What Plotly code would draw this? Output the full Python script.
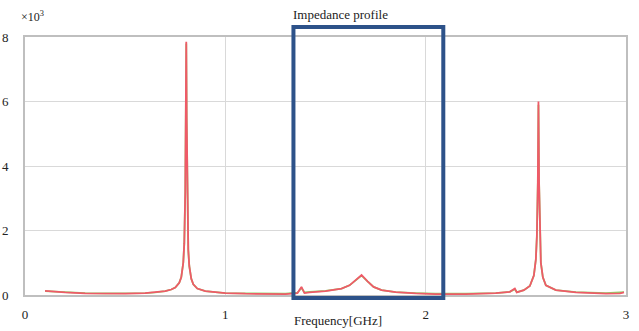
import plotly.graph_objects as go

# Frequency in GHz, impedance in x10^3
freq = [0.10, 0.15, 0.20, 0.30, 0.40, 0.50, 0.60, 0.65, 0.70, 0.73, 0.75, 0.77, 0.78, 0.79,
        0.795, 0.80, 0.803, 0.805, 0.807, 0.81, 0.815, 0.82, 0.83, 0.84, 0.86, 0.90, 0.95,
        1.00, 1.10, 1.20, 1.30, 1.36, 1.38, 1.395, 1.42, 1.50, 1.58, 1.62, 1.65, 1.68, 1.71,
        1.74, 1.78, 1.85, 1.95, 2.05, 2.20, 2.35, 2.42, 2.445, 2.455, 2.49, 2.52, 2.54, 2.55,
        2.555, 2.56, 2.563, 2.566, 2.57, 2.575, 2.585, 2.60, 2.65, 2.75, 2.90, 2.97, 2.99]

red_vals = [0.13, 0.10, 0.08, 0.05, 0.04, 0.04, 0.06, 0.08, 0.12, 0.17, 0.23, 0.38, 0.55, 1.0,
            1.6, 3.2, 5.5, 7.85, 5.5, 2.8, 1.4, 0.9, 0.5, 0.33, 0.2, 0.12, 0.08,
            0.06, 0.04, 0.03, 0.03, 0.06, 0.25, 0.06, 0.08, 0.12, 0.20, 0.30, 0.45, 0.62, 0.42,
            0.25, 0.15, 0.09, 0.05, 0.03, 0.03, 0.06, 0.10, 0.20, 0.08, 0.15, 0.28, 0.6, 1.1,
            1.8, 3.5, 6.0, 3.5, 1.8, 1.0, 0.55, 0.30, 0.15, 0.08, 0.04, 0.05, 0.08]

green_vals = [0.12, 0.10, 0.08, 0.06, 0.05, 0.05, 0.06, 0.08, 0.12, 0.17, 0.23, 0.38, 0.55, 1.0,
              1.6, 3.2, 5.5, 7.8, 5.5, 2.8, 1.4, 0.9, 0.5, 0.33, 0.2, 0.12, 0.08,
              0.06, 0.05, 0.04, 0.04, 0.07, 0.22, 0.08, 0.10, 0.13, 0.20, 0.30, 0.45, 0.60, 0.42,
              0.25, 0.15, 0.09, 0.06, 0.04, 0.04, 0.06, 0.10, 0.18, 0.09, 0.15, 0.28, 0.6, 1.1,
              1.8, 3.5, 5.9, 3.5, 1.8, 1.0, 0.55, 0.30, 0.15, 0.09, 0.06, 0.07, 0.09]

x_ticks = [0, 1, 2, 3]
y_ticks = [0, 2, 4, 6, 8]

# highlighted window (GHz)
box_x = [1.34, 2.088]

font_family = "Liberation Serif"

fig = go.Figure()
fig.add_trace(go.Scatter(x=freq, y=green_vals, mode="lines",
                         line=dict(color="#8fd46a", width=1.8), showlegend=False))
fig.add_trace(go.Scatter(x=freq, y=red_vals, mode="lines",
                         line=dict(color="#ef5a68", width=1.8), showlegend=False))

fig.add_shape(type="rect", xref="x", yref="paper",
              x0=box_x[0], x1=box_x[1], y0=-0.012, y1=1.039,
              line=dict(color="#2d5289", width=4), fillcolor="rgba(0,0,0,0)", layer="above")

fig.update_layout(
    width=639, height=331,
    margin=dict(l=25, r=13, t=37, b=36, autoexpand=False),
    paper_bgcolor="white", plot_bgcolor="white",
    font=dict(family=font_family, size=13, color="#222222"),
    xaxis=dict(range=[0, 3], tickvals=x_ticks, ticktext=[str(v) for v in x_ticks],
               showgrid=True, gridcolor="#d9d9d9", gridwidth=1,
               showline=True, linecolor="#bfbfbf", linewidth=2, mirror=True,
               zeroline=False, ticks="", ticklabelstandoff=6, automargin=False,
               tickfont=dict(family=font_family, size=13, color="#222222")),
    yaxis=dict(range=[0, 8], tickvals=y_ticks, ticktext=[str(v) for v in y_ticks],
               showgrid=True, gridcolor="#d9d9d9", gridwidth=1,
               showline=True, linecolor="#bfbfbf", linewidth=2, mirror=True,
               zeroline=False, ticks="", ticklabelstandoff=12, automargin=False,
               tickfont=dict(family=font_family, size=13, color="#222222")),
)

fig.add_annotation(text="Impedance profile", xref="paper", yref="paper",
                   x=(340 - 25) / 601, y=1 + (37 - 14) / 258, showarrow=False,
                   xanchor="center", yanchor="middle",
                   font=dict(family=font_family, size=13, color="#222222"))
fig.add_annotation(text="Frequency[GHz]", xref="paper", yref="paper",
                   x=(338 - 25) / 601, y=-(320 - 295) / 258, showarrow=False,
                   xanchor="center", yanchor="middle",
                   font=dict(family=font_family, size=13, color="#222222"))
fig.add_annotation(text="×10<sup>3</sup>", xref="paper", yref="paper",
                   x=(19 - 25) / 601, y=1 + (37 - 16) / 258, showarrow=False,
                   xanchor="left", yanchor="middle",
                   font=dict(family=font_family, size=12, color="#222222"))

fig.write_html("out.html", config={"displayModeBar": False},
               post_script="document.body.style.margin='0';document.body.style.overflow='hidden';")
